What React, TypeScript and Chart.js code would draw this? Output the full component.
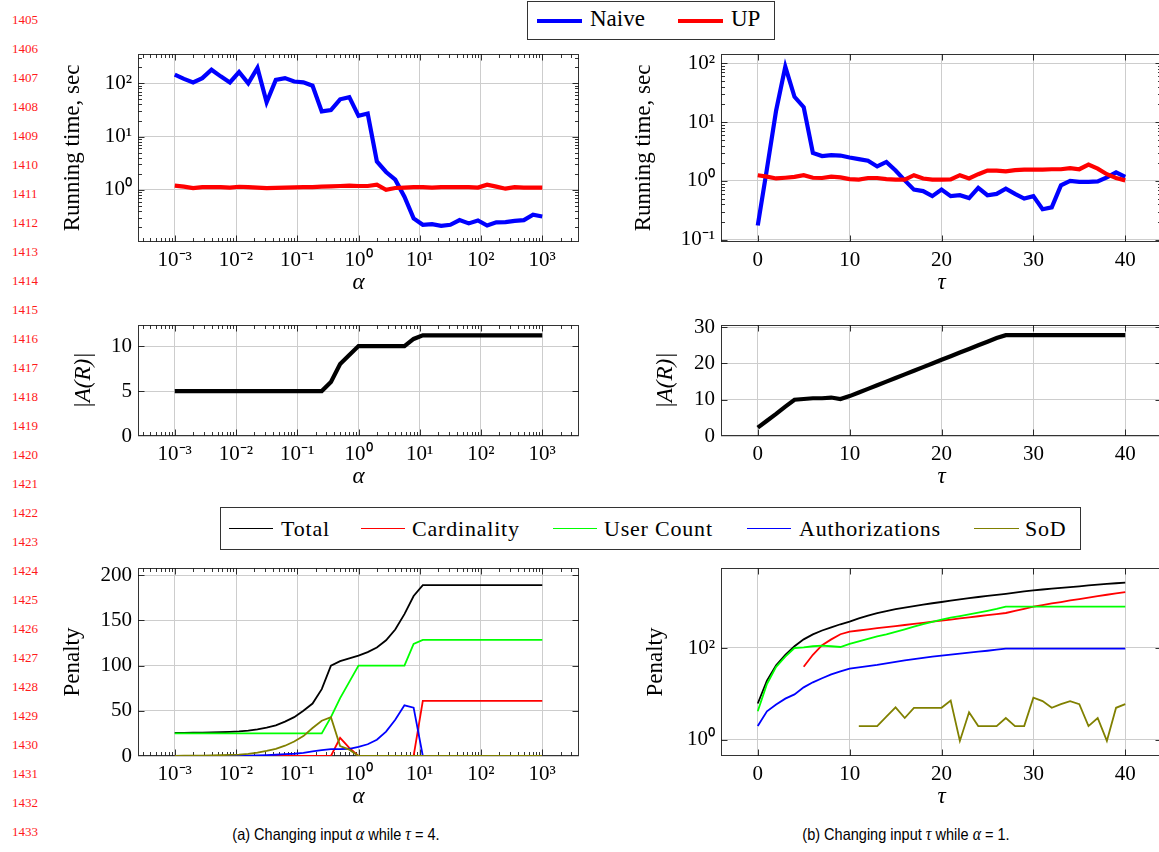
import React, { useEffect, useRef } from "react";
import { Chart, registerables } from "chart.js";

Chart.register(...registerables);

const SERIF = '"Liberation Serif", "Times New Roman", serif';
const SANS = '"Liberation Sans", Arial, sans-serif';

// ---------------- data ----------------
const alphaValues = [
  0.001, 0.001413, 0.001995, 0.002818, 0.003981, 0.005623, 0.007943, 0.01122, 0.01585, 0.02239,
  0.03162, 0.04467, 0.0631, 0.08913, 0.1259, 0.1778, 0.2512, 0.3548, 0.5012, 0.7079,
  1, 1.413, 1.995, 2.818, 3.981, 5.623, 7.943, 11.22, 15.85, 22.39,
  31.62, 44.67, 63.1, 89.13, 125.9, 177.8, 251.2, 354.8, 501.2, 707.9, 1000,
];
const tauValues = [
  0, 1, 2, 3, 4, 5, 6, 7, 8, 9, 10, 11, 12, 13, 14, 15, 16, 17, 18, 19, 20,
  21, 22, 23, 24, 25, 26, 27, 28, 29, 30, 31, 32, 33, 34, 35, 36, 37, 38, 39, 40,
];

const naiveTimeAlpha = [
  145, 121, 104, 125, 180, 135, 104, 163, 100, 195, 44, 116, 125, 108, 104, 90, 29.6, 31.4, 50, 55,
  24.5, 27, 3.4, 2.16, 1.55, 0.74, 0.29, 0.22, 0.226, 0.21, 0.22, 0.27, 0.234, 0.266, 0.213, 0.245,
  0.248, 0.26, 0.27, 0.34, 0.316,
];
const upTimeAlpha = [
  1.2, 1.15, 1.08, 1.12, 1.13, 1.12, 1.1, 1.14, 1.12, 1.1, 1.08, 1.09, 1.1, 1.11, 1.12, 1.12, 1.15,
  1.16, 1.18, 1.2, 1.18, 1.18, 1.25, 1.0, 1.08, 1.1, 1.12, 1.12, 1.1, 1.12, 1.12, 1.12, 1.12, 1.1,
  1.25, 1.15, 1.05, 1.12, 1.1, 1.1, 1.1,
];
const naiveTimeTau = [
  0.174, 1.6, 15.8, 88, 27, 18, 3.0, 2.65, 2.75, 2.7, 2.5, 2.35, 2.2, 1.76, 2.1, 1.5, 1.02, 0.71,
  0.67, 0.55, 0.71, 0.55, 0.57, 0.51, 0.76, 0.57, 0.6, 0.74, 0.6, 0.5, 0.55, 0.33, 0.355, 0.84, 1.0,
  0.96, 0.96, 0.98, 1.15, 1.4, 1.17,
];
const upTimeTau = [
  1.25, 1.18, 1.1, 1.13, 1.17, 1.25, 1.13, 1.12, 1.18, 1.15, 1.07, 1.05, 1.12, 1.12, 1.07, 1.05,
  1.05, 1.25, 1.1, 1.05, 1.05, 1.06, 1.25, 1.1, 1.3, 1.5, 1.5, 1.45, 1.52, 1.55, 1.55, 1.55, 1.58,
  1.58, 1.65, 1.58, 1.9, 1.62, 1.3, 1.12, 1.02,
];

const rolesAlpha = [
  5, 5, 5, 5, 5, 5, 5, 5, 5, 5, 5, 5, 5, 5, 5, 5, 5, 6, 8, 9, 10, 10, 10, 10, 10, 10, 10.8, 11.2,
  11.2, 11.2, 11.2, 11.2, 11.2, 11.2, 11.2, 11.2, 11.2, 11.2, 11.2, 11.2, 11.2,
];
const rolesTau = [
  2.3, 4.2, 6.1, 8.1, 10, 10.2, 10.4, 10.4, 10.6, 10.2, 11, 12, 13, 14, 15, 16, 17, 18, 19, 20, 21,
  22, 23, 24, 25, 26, 27, 27.8, 27.8, 27.8, 27.8, 27.8, 27.8, 27.8, 27.8, 27.8, 27.8, 27.8, 27.8,
  27.8, 27.8,
];

const totalPenaltyAlpha = [
  25.5, 25.6, 25.7, 25.9, 26.1, 26.3, 26.7, 27.2, 28, 29.5, 31.5, 34, 38, 43, 50, 58, 74, 100, 105,
  108, 111, 115, 120, 128, 140, 157, 177, 189, 189, 189, 189, 189, 189, 189, 189, 189, 189, 189,
  189, 189, 189,
];
const cardinalityPenaltyAlpha = [
  0, 0, 0, 0, 0, 0, 0, 0, 0, 0, 0, 0, 0, 0, 0, 0, 0, 0, 20, 9, 0, 0, 0, 0, 0, 0, 0, 61, 61, 61, 61,
  61, 61, 61, 61, 61, 61, 61, 61, 61, 61,
];
const userCountPenaltyAlpha = [
  25, 25, 25, 25, 25, 25, 25, 25, 25, 25, 25, 25, 25, 25, 25, 25, 25, 43, 64, 82, 100, 100, 100, 100,
  100, 100, 124, 128.5, 128.5, 128.5, 128.5, 128.5, 128.5, 128.5, 128.5, 128.5, 128.5, 128.5, 128.5,
  128.5, 128.5,
];
const authorizationsPenaltyAlpha = [
  0, 0, 0.05, 0.08, 0.1, 0.15, 0.2, 0.3, 0.5, 0.7, 1, 1.4, 2, 2.5, 3.5, 5, 6.5, 7.5, 7.5, 8, 10, 13,
  18, 27, 40, 56, 53.5, 0, 0, 0, 0, 0, 0, 0, 0, 0, 0, 0, 0, 0, 0,
];
const sodPenaltyAlpha = [
  0.2, 0.3, 0.4, 0.5, 0.7, 0.9, 1.2, 1.6, 2.3, 3.8, 5.7, 8, 11.4, 16, 22, 31, 39, 43, 11, 7, 0, 0,
  0, 0, 0, 0, 0, 0, 0, 0, 0, 0, 0, 0, 0, 0, 0, 0, 0, 0, 0,
];

const totalPenaltyTau = [
  6.2, 19.5, 42, 71, 109, 154, 198, 240, 280, 328, 376, 440, 505, 570, 633, 697, 757, 818, 878, 940,
  1000, 1070, 1140, 1210, 1285, 1360, 1435, 1510, 1600, 1695, 1790, 1870, 1950, 2030, 2115, 2200,
  2290, 2380, 2470, 2560, 2650,
];
const cardinalityPenaltyTau = [
  null, null, null, null, null, 39, 71, 115, 154, 199, 228, 240, 254, 269, 284, 300, 316, 334, 353,
  373, 395, 416, 440, 464, 490, 517, 547, 577, 640, 710, 790, 860, 930, 1000, 1080, 1160, 1250, 1340,
  1440, 1540, 1645,
];
const userCountPenaltyTau = [
  4.2, 16.5, 39, 65, 100, 103, 109, 113, 109, 105, 123, 140, 158, 178, 198, 225, 255, 290, 330, 372,
  415, 455, 495, 540, 590, 645, 710, 790, 790, 790, 790, 790, 790, 790, 790, 790, 790, 790, 790, 790,
  790,
];
const authorizationsPenaltyTau = [
  2.0, 4.2, 5.9, 7.9, 9.8, 13.9, 17.9, 22, 26.6, 31, 35.6, 38, 40.5, 43, 46.5, 50, 53.5, 57, 61, 65,
  68.5, 72, 75.5, 79, 83, 87, 92, 97, 97, 97, 97, 97, 97, 97, 97, 97, 97, 97, 97, 97, 97,
];
const sodPenaltyTau = [
  null, null, null, null, null, null, null, null, null, null, null, 2, 2, 2, 3.2, 5.1, 3, 5, 5, 5, 5,
  7.2, 0.95, 4, 2, 2, 2, 3, 2, 2, 8.3, 7, 5, 6, 7, 6, 2, 3, 0.95, 5, 6,
];

// ---------------- ticks ----------------
const alphaTicks = [0.001, 0.01, 0.1, 1, 10, 100, 1000];
const tauTicks = [0, 10, 20, 30, 40];
const timeAlphaTicks = [1, 10, 100];
const timeTauTicks = [0.1, 1, 10, 100];
const rolesAlphaTicks = [0, 5, 10];
const rolesTauTicks = [0, 10, 20, 30];
const penaltyAlphaTicks = [0, 50, 100, 150, 200];
const penaltyTauTicks = [1, 100];

const timeLegend = [
  { label: "Naive", color: "#0000ff" },
  { label: "UP", color: "#ff0000" },
];
const penaltyLegend = [
  { label: "Total", color: "#000000" },
  { label: "Cardinality", color: "#ff0000" },
  { label: "User Count", color: "#00ff00" },
  { label: "Authorizations", color: "#0000ff" },
  { label: "SoD", color: "#808000" },
];

// ---------------- style constants ----------------
const PADT = 16;
const PADR = 30;
const XAXIS_H = 55;
const GRID = "#cdcdcd";
const FRAME = "rgba(0,0,0,0.8)";
const THICK = 4.2;
const THIN = 1.8;

const SUP: Record<string, string> = {
  "-": "\u207b", "0": "\u2070", "1": "\u00b9", "2": "\u00b2", "3": "\u00b3",
  "4": "\u2074", "5": "\u2075", "6": "\u2076", "7": "\u2077", "8": "\u2078", "9": "\u2079",
};
const pow10Label = (v: number) =>
  "10" + String(Math.round(Math.log10(v))).split("").map((c) => SUP[c]).join("");

function logMinors(min: number, max: number): number[] {
  const out: number[] = [];
  for (let e = Math.floor(Math.log10(min)); e <= Math.ceil(Math.log10(max)); e++) {
    for (let m = 2; m <= 9; m++) {
      const v = m * Math.pow(10, e);
      if (v > min && v < max) out.push(v);
    }
  }
  return out;
}

const pgfFrame = {
  id: "pgfFrame",
  beforeDatasetsDraw(chart: any) {
    const { ctx, chartArea: a } = chart;
    const L = Math.round(a.left) + 0.5;
    const R = Math.round(a.right) - 0.5;
    const T = Math.round(a.top) + 0.5;
    const B = Math.round(a.bottom) - 0.5;
    ctx.save();
    ctx.strokeStyle = FRAME;
    ctx.lineWidth = 1;
    ctx.beginPath();
    const xs = chart.scales.x;
    const ys = chart.scales.y;
    for (const t of xs.ticks) {
      const p = Math.round(xs.getPixelForValue(t.value)) + 0.5;
      if (p < a.left || p > a.right) continue;
      const len = t.major ? 6 : 3.5;
      ctx.moveTo(p, B);
      ctx.lineTo(p, B - len);
      ctx.moveTo(p, T);
      ctx.lineTo(p, T + len);
    }
    for (const t of ys.ticks) {
      const p = Math.round(ys.getPixelForValue(t.value)) + 0.5;
      if (p < a.top || p > a.bottom) continue;
      const len = t.major ? 6 : 3.5;
      ctx.moveTo(L, p);
      ctx.lineTo(L + len, p);
      ctx.moveTo(R, p);
      ctx.lineTo(R - len, p);
    }
    ctx.stroke();
    ctx.strokeRect(L, T, R - L, B - T);
    ctx.restore();
  },
};

type AxisSpec = {
  type: "linear" | "logarithmic";
  min: number;
  max: number;
  majors: number[];
  minors: number[];
  title: string;
  italic: boolean;
};

function makeAxis(spec: AxisSpec, isX: boolean, yAxisW: number) {
  return {
    type: spec.type,
    position: isX ? "bottom" : "left",
    min: spec.min,
    max: spec.max,
    afterBuildTicks: (s: any) => {
      const all = [
        ...spec.majors.map((v) => ({ value: v, major: true })),
        ...spec.minors.map((v) => ({ value: v, major: false })),
      ].sort((p, q) => p.value - q.value);
      s.ticks = all;
    },
    afterFit: (s: any) => {
      if (isX) {
        s.height = XAXIS_H;
        s.paddingLeft = 0;
        s.paddingRight = 0;
      } else {
        s.width = yAxisW;
        s.paddingTop = 0;
        s.paddingBottom = 0;
      }
    },
    grid: {
      color: (c: any) => (c.tick && c.tick.major ? GRID : "rgba(0,0,0,0)"),
      lineWidth: 1,
      drawTicks: false,
    },
    border: { display: false },
    ticks: {
      autoSkip: false,
      maxRotation: 0,
      minRotation: 0,
      padding: 6,
      color: "#000",
      font: { family: SERIF, size: 21 },
      callback: (v: number, i: number, ticks: any[]) =>
        ticks[i] && ticks[i].major
          ? spec.type === "logarithmic"
            ? pow10Label(v)
            : String(v)
          : "",
    },
    title: {
      display: true,
      text: spec.title,
      color: "#000",
      padding: 0,
      font: { family: SERIF, size: 23, style: spec.italic ? "italic" : "normal" },
    },
  };
}

type Panel = {
  key: string;
  left: number;
  top: number;
  w: number;
  h: number;
  yAxisW: number;
  x: AxisSpec;
  y: AxisSpec;
  datasets: any[];
};

function series(xs: number[], ys: (number | null)[], color: string, width: number, order: number) {
  return {
    data: xs.map((x, i) => ({ x, y: ys[i] })),
    borderColor: color,
    backgroundColor: color,
    borderWidth: width,
    pointRadius: 0,
    pointHoverRadius: 0,
    fill: false,
    tension: 0,
    spanGaps: false,
    order,
  };
}

const alphaAxis: AxisSpec = {
  type: "logarithmic",
  min: Math.pow(10, -3.6),
  max: Math.pow(10, 3.6),
  majors: alphaTicks,
  minors: logMinors(Math.pow(10, -3.6), Math.pow(10, 3.6)),
  title: "\u03b1",
  italic: true,
};
const tauAxis: AxisSpec = {
  type: "linear",
  min: -4,
  max: 44,
  majors: tauTicks,
  minors: [],
  title: "\u03c4",
  italic: true,
};

const panels: Panel[] = [
  {
    key: "timeAlpha", left: 138, top: 54, w: 441, h: 188, yAxisW: 79,
    x: alphaAxis,
    y: {
      type: "logarithmic", min: 0.1047, max: 354.8, majors: timeAlphaTicks,
      minors: logMinors(0.1047, 354.8), title: "Running time, sec", italic: false,
    },
    datasets: [
      series(alphaValues, naiveTimeAlpha, "#0000ff", THICK, 1),
      series(alphaValues, upTimeAlpha, "#ff0000", THICK, 0),
    ],
  },
  {
    key: "timeTau", left: 721, top: 54, w: 441, h: 188, yAxisW: 91,
    x: tauAxis,
    y: {
      type: "logarithmic", min: 0.0912, max: 144.5, majors: timeTauTicks,
      minors: logMinors(0.0912, 144.5), title: "Running time, sec", italic: false,
    },
    datasets: [
      series(tauValues, naiveTimeTau, "#0000ff", THICK, 1),
      series(tauValues, upTimeTau, "#ff0000", THICK, 0),
    ],
  },
  {
    key: "rolesAlpha", left: 138, top: 325, w: 441, h: 111, yAxisW: 68,
    x: alphaAxis,
    y: { type: "linear", min: 0, max: 12.35, majors: rolesAlphaTicks, minors: [], title: "|A(R)|", italic: true },
    datasets: [series(alphaValues, rolesAlpha, "#000000", THICK, 0)],
  },
  {
    key: "rolesTau", left: 721, top: 325, w: 441, h: 111, yAxisW: 69,
    x: tauAxis,
    y: { type: "linear", min: 0, max: 30.6, majors: rolesTauTicks, minors: [], title: "|A(R)|", italic: true },
    datasets: [series(tauValues, rolesTau, "#000000", THICK, 0)],
  },
  {
    key: "penaltyAlpha", left: 138, top: 568, w: 441, h: 188, yAxisW: 79,
    x: alphaAxis,
    y: { type: "linear", min: 0, max: 208, majors: penaltyAlphaTicks, minors: [], title: "Penalty", italic: false },
    datasets: [
      series(alphaValues, totalPenaltyAlpha, "#000000", THIN, 4),
      series(alphaValues, cardinalityPenaltyAlpha, "#ff0000", THIN, 3),
      series(alphaValues, userCountPenaltyAlpha, "#00ff00", THIN, 2),
      series(alphaValues, authorizationsPenaltyAlpha, "#0000ff", THIN, 1),
      series(alphaValues, sodPenaltyAlpha, "#808000", THIN, 0),
    ],
  },
  {
    key: "penaltyTau", left: 721, top: 568, w: 441, h: 188, yAxisW: 79,
    x: tauAxis,
    y: { type: "logarithmic", min: 0.447, max: 5495, majors: penaltyTauTicks, minors: [], title: "Penalty", italic: false },
    datasets: [
      series(tauValues, totalPenaltyTau, "#000000", THIN, 4),
      series(tauValues, cardinalityPenaltyTau, "#ff0000", THIN, 3),
      series(tauValues, userCountPenaltyTau, "#00ff00", THIN, 2),
      series(tauValues, authorizationsPenaltyTau, "#0000ff", THIN, 1),
      series(tauValues, sodPenaltyTau, "#808000", THIN, 0),
    ],
  },
];

function ChartPanel({ panel }: { panel: Panel }) {
  const ref = useRef<HTMLCanvasElement | null>(null);
  const W = panel.yAxisW + panel.w + PADR;
  const H = PADT + panel.h + XAXIS_H;
  useEffect(() => {
    const canvas = ref.current;
    if (!canvas) return;
    const chart = new Chart(canvas, {
      type: "line",
      data: { datasets: panel.datasets },
      options: {
        animation: false,
        responsive: false,
        maintainAspectRatio: false,
        devicePixelRatio: 1,
        events: [],
        layout: { padding: { left: 0, top: PADT, right: PADR, bottom: 0 } },
        plugins: { legend: { display: false }, tooltip: { enabled: false } },
        scales: {
          x: makeAxis(panel.x, true, panel.yAxisW),
          y: makeAxis(panel.y, false, panel.yAxisW),
        },
      } as any,
      plugins: [pgfFrame],
    });
    return () => chart.destroy();
  }, [panel]);
  return (
    <div
      style={{
        position: "absolute",
        left: panel.left - panel.yAxisW,
        top: panel.top - PADT,
        width: W,
        height: H,
      }}
    >
      <canvas ref={ref} width={W} height={H} style={{ display: "block", width: W, height: H }} />
    </div>
  );
}

function LegendBox({
  items, box, lineW, fontSize, spacing, baseline, lineY, entries,
}: {
  items: { label: string; color: string }[];
  box: { left: number; top: number; width: number; height: number };
  lineW: number;
  fontSize: number;
  spacing: number;
  baseline: number;
  lineY: number;
  entries: { lineStart: number; lineEnd: number; text: number }[];
}) {
  return (
    <>
      <div
        style={{
          position: "absolute",
          left: box.left,
          top: box.top,
          width: box.width,
          height: box.height,
          border: "1px solid #333",
          boxSizing: "border-box",
        }}
      />
      {items.map((it, i) => (
        <React.Fragment key={it.label}>
          <div
            style={{
              position: "absolute",
              left: entries[i].lineStart,
              top: lineY - lineW / 2,
              width: entries[i].lineEnd - entries[i].lineStart,
              height: lineW,
              background: it.color,
            }}
          />
          <span
            style={{
              position: "absolute",
              left: entries[i].text,
              top: baseline - 0.8375 * fontSize,
              fontFamily: SERIF,
              fontSize,
              lineHeight: `${fontSize}px`,
              letterSpacing: spacing,
              whiteSpace: "nowrap",
              color: "#000",
            }}
          >
            {it.label}
          </span>
        </React.Fragment>
      ))}
    </>
  );
}

const lineNumbers = Array.from({ length: 29 }, (_, i) => 1405 + i);

const captionStyle: React.CSSProperties = {
  position: "absolute",
  width: 320,
  top: 825,
  textAlign: "center",
  fontFamily: SANS,
  fontSize: 16.5,
  lineHeight: "19px",
  whiteSpace: "nowrap",
  transform: "scaleX(0.88)",
  transformOrigin: "50% 50%",
};
const mathStyle: React.CSSProperties = { fontFamily: SERIF, fontSize: 18 };

export default function App() {
  return (
    <div
      style={{
        position: "absolute",
        left: 0,
        top: 0,
        width: 1159,
        height: 852,
        overflow: "hidden",
        background: "#fff",
      }}
    >
      {lineNumbers.map((n, i) => (
        <span
          key={n}
          style={{
            position: "absolute",
            left: 12,
            top: 13.4 + 29 * i,
            fontFamily: SERIF,
            fontSize: 13,
            lineHeight: "13px",
            color: "#ff1a1a",
          }}
        >
          {n}
        </span>
      ))}

      <LegendBox
        items={timeLegend}
        box={{ left: 527, top: 1, width: 248, height: 39 }}
        lineW={4}
        fontSize={23}
        spacing={0}
        baseline={26.5}
        lineY={20.5}
        entries={[
          { lineStart: 537, lineEnd: 582, text: 590 },
          { lineStart: 678, lineEnd: 723, text: 731 },
        ]}
      />

      {panels.map((p) => (
        <ChartPanel key={p.key} panel={p} />
      ))}

      <LegendBox
        items={penaltyLegend}
        box={{ left: 220, top: 507, width: 861, height: 43 }}
        lineW={1.6}
        fontSize={22}
        spacing={0.8}
        baseline={536}
        lineY={528.5}
        entries={[
          { lineStart: 229, lineEnd: 273, text: 281 },
          { lineStart: 361, lineEnd: 405, text: 412 },
          { lineStart: 553, lineEnd: 597, text: 604 },
          { lineStart: 747, lineEnd: 791, text: 799 },
          { lineStart: 974, lineEnd: 1019, text: 1025 },
        ]}
      />

      <div style={{ ...captionStyle, left: 336 - 160 }}>
        (a) Changing input <i style={mathStyle}>{"\u03b1"}</i> while{" "}
        <i style={mathStyle}>{"\u03c4"}</i> = 4.
      </div>
      <div style={{ ...captionStyle, left: 906 - 160 }}>
        (b) Changing input <i style={mathStyle}>{"\u03c4"}</i> while{" "}
        <i style={mathStyle}>{"\u03b1"}</i> = 1.
      </div>
    </div>
  );
}
